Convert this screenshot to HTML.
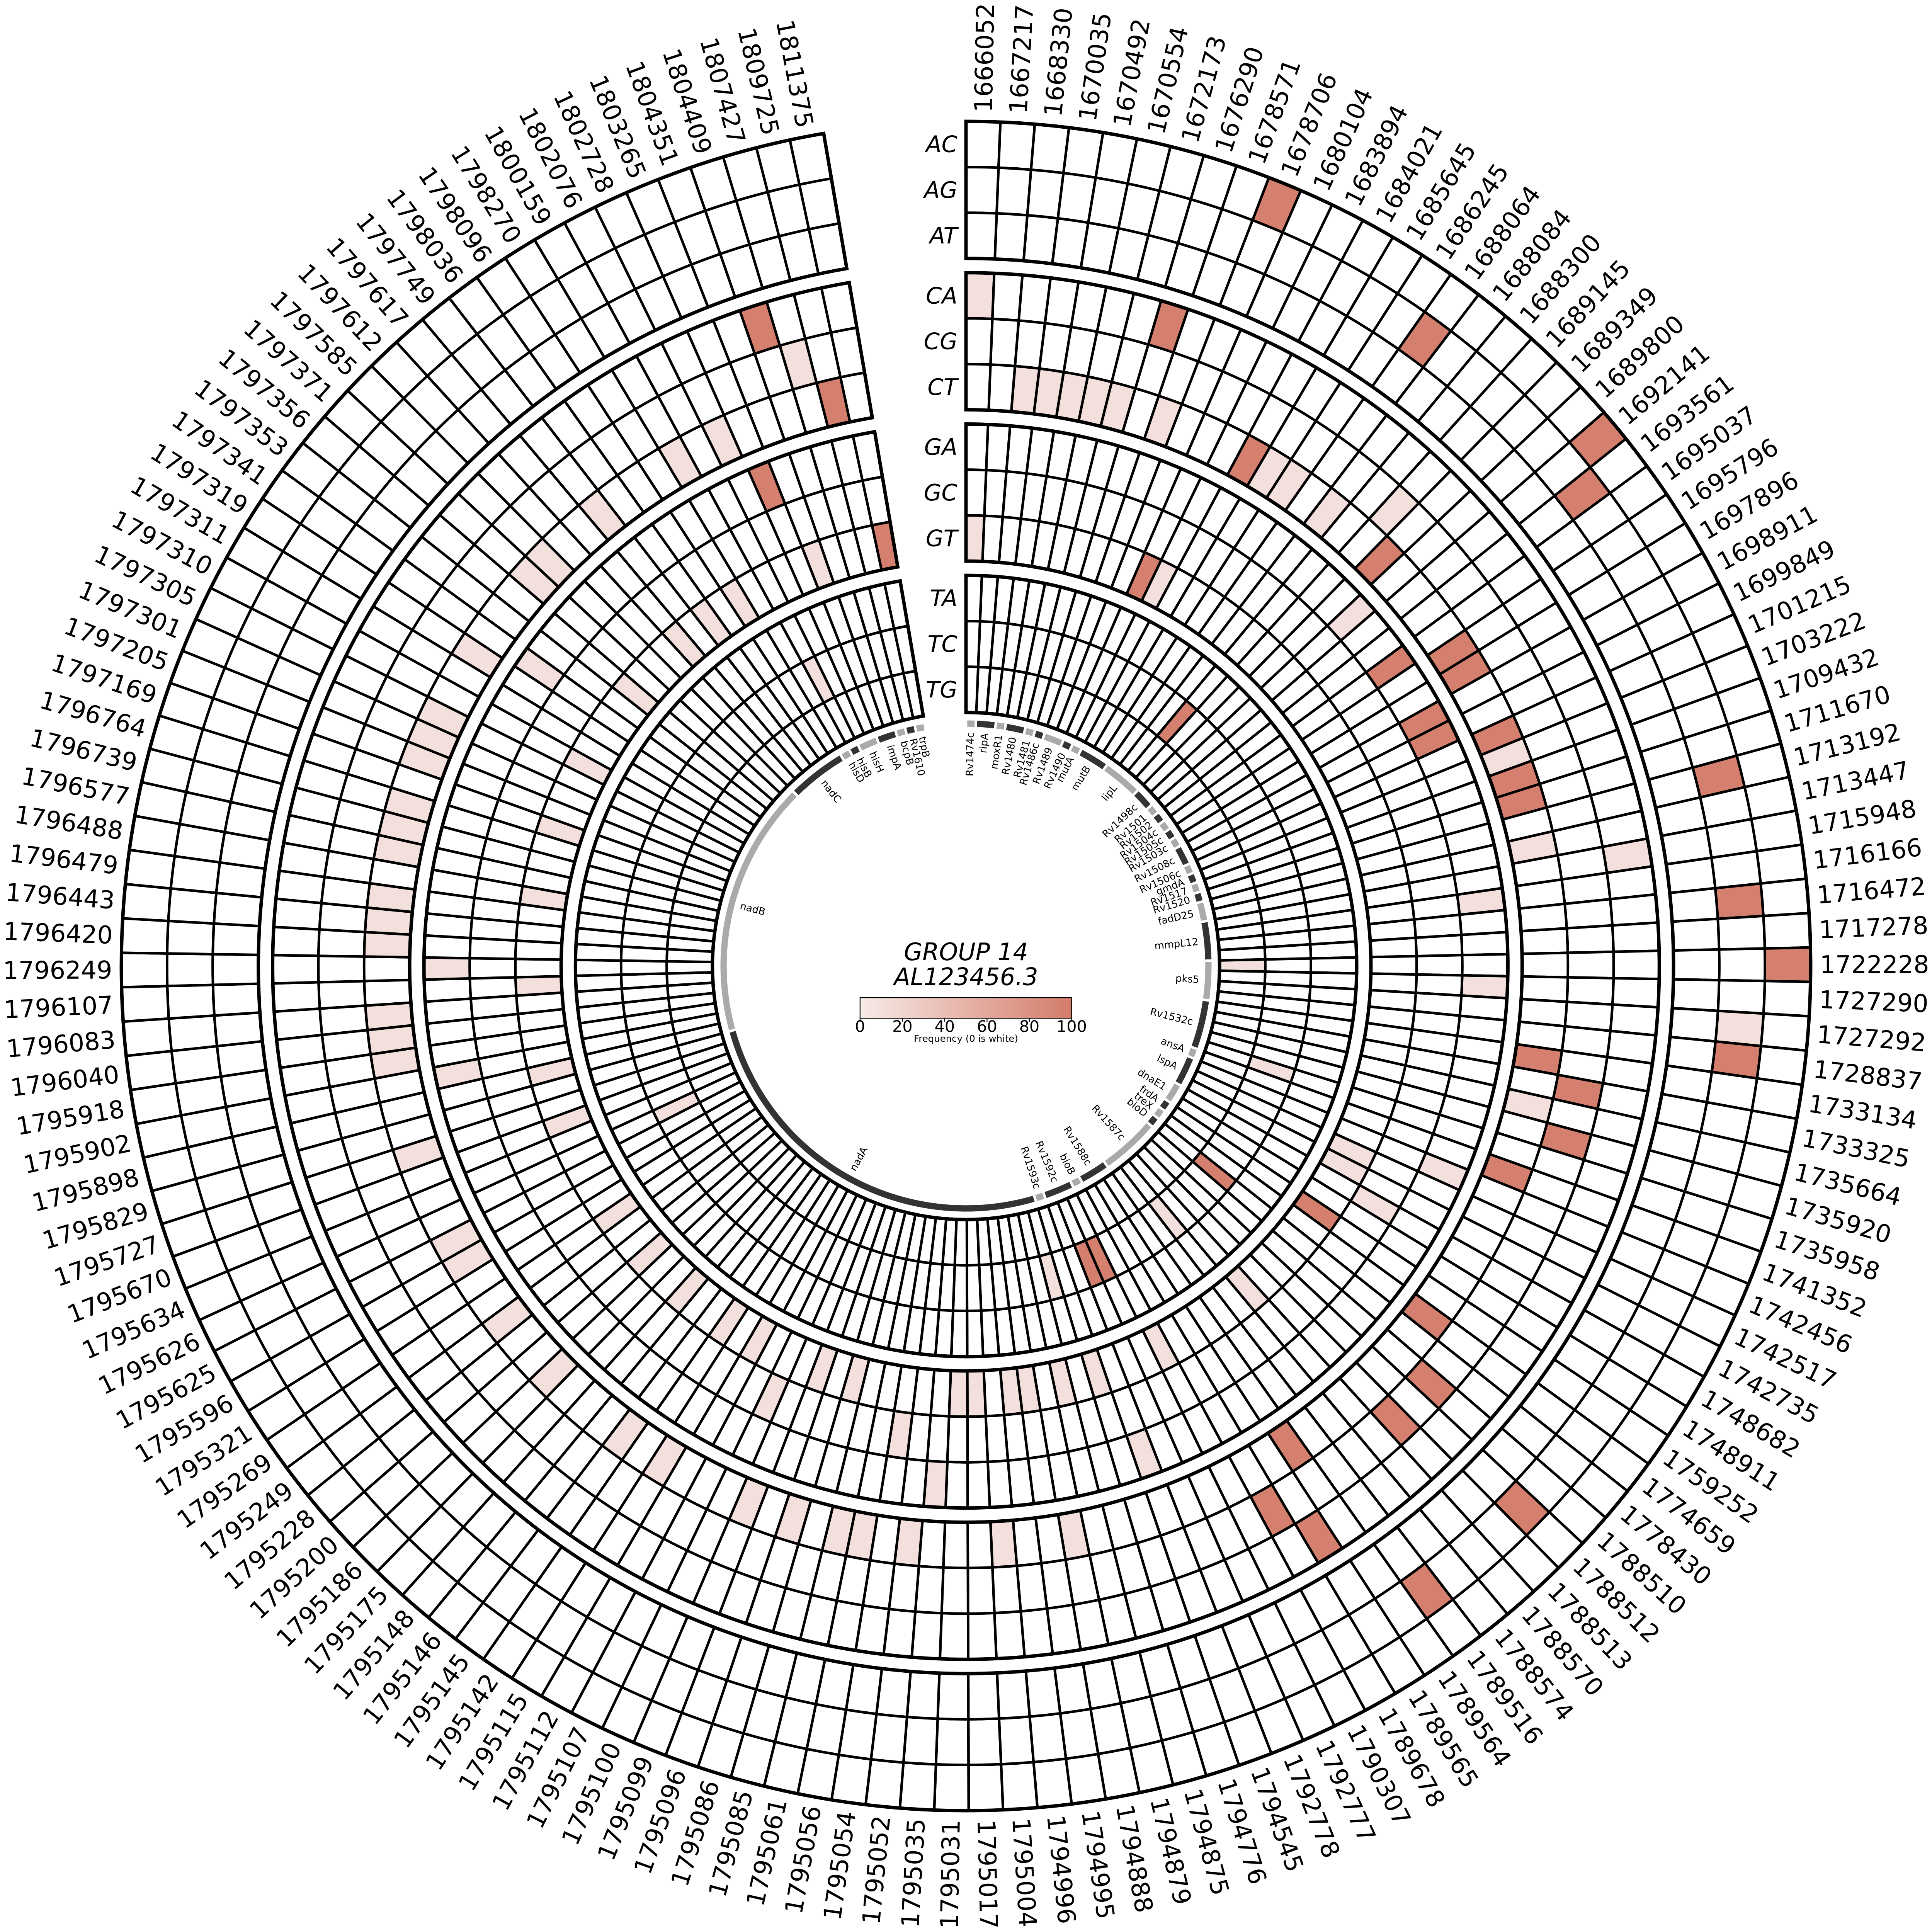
<!DOCTYPE html>
<html><head><meta charset="utf-8">
<style>
html,body{margin:0;padding:0;background:#fff;overflow:hidden;width:100%;height:100%;}
svg{display:block;width:100vw;height:100vh;}
text{font-family:"DejaVu Sans","Liberation Sans",sans-serif;}
</style></head>
<body>
<svg id="s" xmlns="http://www.w3.org/2000/svg" viewBox="0 0 6766 6766" preserveAspectRatio="xMidYMid meet">
<defs>
<linearGradient id="cb" x1="0" x2="1" y1="0" y2="0">
<stop offset="0" stop-color="#f7ebe8"/><stop offset="0.5" stop-color="#e6b3a8"/><stop offset="1" stop-color="#d37c69"/>
</linearGradient>
</defs>
<rect width="6766" height="6766" fill="#fff"/>
<g id="cells"></g>
<g id="genes"></g>
<g id="labels"></g>
<text x="3383" y="3363" text-anchor="middle" font-size="84" font-style="italic">GROUP 14</text>
<text x="3383" y="3450" text-anchor="middle" font-size="84" font-style="italic">AL123456.3</text>
<rect x="3012" y="3494" width="741" height="72" fill="url(#cb)" stroke="#000" stroke-width="3"/>
<g id="cbt"></g>
<text x="3383" y="3648" text-anchor="middle" font-size="33">Frequency (0 is white)</text>
<g font-size="80" font-style="italic" text-anchor="end">
<text x="3353" y="505" dominant-baseline="central">AC</text>
<text x="3353" y="665" dominant-baseline="central">AG</text>
<text x="3353" y="825" dominant-baseline="central">AT</text>
<text x="3353" y="1035" dominant-baseline="central">CA</text>
<text x="3353" y="1195" dominant-baseline="central">CG</text>
<text x="3353" y="1355" dominant-baseline="central">CT</text>
<text x="3353" y="1565" dominant-baseline="central">GA</text>
<text x="3353" y="1725" dominant-baseline="central">GC</text>
<text x="3353" y="1885" dominant-baseline="central">GT</text>
<text x="3353" y="2095" dominant-baseline="central">TA</text>
<text x="3353" y="2255" dominant-baseline="central">TC</text>
<text x="3353" y="2415" dominant-baseline="central">TG</text>
</g>
</svg>
<script>
(function(){
var NS="http://www.w3.org/2000/svg",cx=3383,cy=3383,N=150,END=350.3,W=END/N;
function P(r,a){var t=a*Math.PI/180;return [cx+r*Math.sin(t),cy-r*Math.cos(t)];}
function arc(r1,r2,a1,a2){var p1=P(r1,a1),p2=P(r1,a2),p3=P(r2,a2),p4=P(r2,a1),lg=(a2-a1)>180?1:0;
return "M"+p1[0].toFixed(1)+","+p1[1].toFixed(1)+"A"+r1+","+r1+" 0 "+lg+" 1 "+p2[0].toFixed(1)+","+p2[1].toFixed(1)+"L"+p3[0].toFixed(1)+","+p3[1].toFixed(1)+"A"+r2+","+r2+" 0 "+lg+" 0 "+p4[0].toFixed(1)+","+p4[1].toFixed(1)+"Z";}
function el(tag,attrs,parent,txt){var e=document.createElementNS(NS,tag);for(var k in attrs)e.setAttribute(k,attrs[k]);if(txt!==undefined)e.textContent=txt;parent.appendChild(e);return e;}
var tops=[2958,2428,1898,1368],RH=160;
var dark={0:[9,21,38],1:[15,22,32,36,41,57,61],3:[7,63,146],4:[43,45,56,58,64],5:[12,19,24,25,28,30,31,42,47,54,62,148],6:[23,26,27,144],8:[10,53,149],10:[17,55,66,67]};
var light={1:[40],3:[0,34],4:[18,147],5:[2,3,4,5,6,8,13,14,16,29,33,44,72,75,79,81,82,84,86,90,92,96,99,102,103,107,111,112,113,116,117,118,120,121,122,124,125,126,129,133,134,137,141,143],6:[20,35,39,48,68,78,110,115,130],7:[51,80,87],8:[0,11,49,50,59,65,69,71,73,74,76,77,83,85,89,91,94,97,100,106,109,114,119,123,127,132,136,138,140,145],10:[46,60,70,104,142],11:[38]};
var color={};
for(var r in light)light[r].forEach(function(s){color[r+"_"+s]="#f3e0dc";});
for(var r in dark)dark[r].forEach(function(s){color[r+"_"+s]="#d5806e";});
var g=document.getElementById("cells");
for(var row=0;row<12;row++){
 var grp=Math.floor(row/3),k=row%3,ro=tops[grp]-k*RH,ri=ro-RH;
 for(var s=0;s<N;s++){
  var c=color[row+"_"+s]||"#fff";
  el("path",{d:arc(ro,ri,s*W,(s+1)*W),fill:c,stroke:"#000","stroke-width":"9"},g);
 }
}
for(var gi=0;gi<4;gi++){el("path",{d:arc(tops[gi],tops[gi]-480,0,END),fill:"none",stroke:"#000","stroke-width":"12"},g);}
var genes=[[0,1,"Rv1474c"],[1,3,"ripA"],[3,4,"moxR1"],[4,6,"Rv1480"],[6,7,"Rv1481"],[7,8,"Rv1486c"],[8,10,"Rv1489"],[10,11,"Rv1490"],[11,12,"mutA"],[12,15,"mutB"],[15,19,"lipL"],[19,21,"Rv1498c"],[21,22,"Rv1501"],[22,23,"Rv1502"],[23,24,"Rv1504c"],[24,25,"Rv1505c"],[25,26,"Rv1503c"],[26,28,"Rv1508c"],[28,29,"Rv1506c"],[29,30,"gmdA"],[30,31,"Rv1517"],[31,32,"Rv1520"],[32,34,"fadD25"],[34,38,"mmpL12"],[38,42,"pks5"],[42,47,"Rv1532c"],[47,48,"ansA"],[48,51,"lspA"],[51,53,"dnaE1"],[53,54,"frdA"],[54,55,"treX"],[55,56,"bioD"],[56,62,"Rv1587c"],[62,65,"Rv1588c"],[65,66,"bioB"],[66,69,"Rv1592c"],[69,70,"Rv1593c"],[70,109,"nadA"],[109,135,"nadB"],[135,141,"nadC"],[141,142,"hisD"],[142,143,"hisB"],[143,145,"hisH"],[145,147,"impA"],[147,148,"bcpB"],[148,149,"Rv1610"],[149,150,"trpB"]];
var gg=document.getElementById("genes");
genes.forEach(function(x,i){
 var a1=x[0]*W+0.3,a2=x[1]*W-0.3;
 el("path",{d:arc(860,838,a1,a2),fill:(i%2==0)?"#aaaaaa":"#333333"},gg);
 var am=(x[0]+x[1])/2*W,p=P(818,am),rot,anc;
 if(am<180){rot=am-90;anc="end";}else{rot=am+90;anc="start";}
 el("text",{x:p[0].toFixed(1),y:p[1].toFixed(1),"font-size":"35","text-anchor":anc,"dominant-baseline":"central",transform:"rotate("+rot.toFixed(2)+" "+p[0].toFixed(1)+" "+p[1].toFixed(1)+")"},gg,x[2]);
});
var pos="1666052 1667217 1668330 1670035 1670492 1670554 1672173 1676290 1678571 1678706 1680104 1683894 1684021 1685645 1686245 1688064 1688084 1688300 1689145 1689349 1689800 1692141 1693561 1695037 1695796 1697896 1698911 1699849 1701215 1703222 1709432 1711670 1713192 1713447 1715948 1716166 1716472 1717278 1722228 1727290 1727292 1728837 1733134 1733325 1735664 1735920 1735958 1741352 1742456 1742517 1742735 1748682 1748911 1759252 1774659 1778430 1788510 1788512 1788513 1788570 1788574 1789516 1789564 1789565 1789678 1790307 1792777 1792778 1794545 1794776 1794875 1794879 1794888 1794995 1794996 1795004 1795017 1795031 1795035 1795052 1795054 1795056 1795061 1795085 1795086 1795096 1795099 1795100 1795107 1795112 1795115 1795142 1795145 1795146 1795148 1795175 1795186 1795200 1795228 1795249 1795269 1795321 1795596 1795625 1795626 1795634 1795670 1795727 1795829 1795898 1795902 1795918 1796040 1796083 1796107 1796249 1796420 1796443 1796479 1796488 1796577 1796739 1796764 1797169 1797205 1797301 1797305 1797310 1797311 1797319 1797341 1797353 1797356 1797371 1797585 1797612 1797617 1797749 1798036 1798096 1798270 1800159 1802076 1802728 1803265 1804351 1804409 1807427 1809725 1811375".split(" ");
var lg=document.getElementById("labels");
pos.forEach(function(t,s){
 var am=(s+0.5)*W,p=P(2990,am),rot,anc;
 if(am<180){rot=am-90;anc="start";}else{rot=am+90;anc="end";}
 el("text",{x:p[0].toFixed(1),y:p[1].toFixed(1),"font-size":"86","text-anchor":anc,"dominant-baseline":"central",transform:"rotate("+rot.toFixed(2)+" "+p[0].toFixed(1)+" "+p[1].toFixed(1)+")"},lg,t);
});
var cb=document.getElementById("cbt");
for(var i=0;i<=5;i++){var x=3012+741*i/5;
 el("line",{x1:x,y1:3566,x2:x,y2:3578,stroke:"#000","stroke-width":"3"},cb);
 el("text",{x:x,y:3614,"font-size":"56","text-anchor":"middle"},cb,String(i*20));}
})();
</script>
</body></html>
